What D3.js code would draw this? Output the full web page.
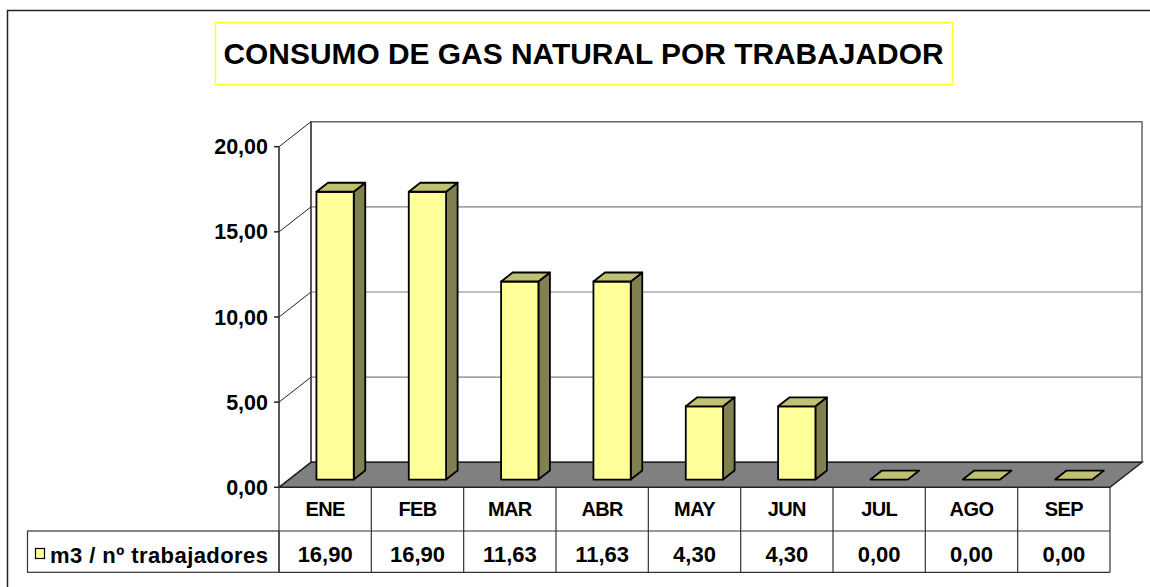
<!DOCTYPE html>
<html>
<head>
<meta charset="utf-8">
<script src="https://cdn.jsdelivr.net/npm/d3@7"></script>
<style>
  body { margin: 0; background: #fff; }
  svg { display: block; font-family: "Liberation Sans", Arial, sans-serif; font-weight: bold; }
</style>
</head>
<body>
<div id="chart-wrap"></div>
<script>
const months = ["ENE", "FEB", "MAR", "ABR", "MAY", "JUN", "JUL", "AGO", "SEP"];
const values = [16.90, 16.90, 11.63, 11.63, 4.30, 4.30, 0.00, 0.00, 0.00];
const yTicks = [0, 5, 10, 15, 20];
const seriesName = "m3 / nº trabajadores";
const titleText = "CONSUMO DE GAS NATURAL POR TRABAJADOR";

const width = 1150;
const height = 587;
const depth = {dx: 32, dy: -25};      // floor depth offset
const barDepth = [0.31, 0.67];         // bar front/back as fraction of floor depth

const locale = d3.formatLocale({decimal: ",", thousands: ".", grouping: [3], currency: ["", "€"]});
const fmt = locale.format(".2f");

const svg = d3.select("#chart-wrap")
  .append("svg")
  .attr("width", width)
  .attr("height", height);

// outer chart border
svg.append("rect")
  .attr("x", 7.5).attr("y", 10.5)
  .attr("width", 1160).attr("height", 600)
  .attr("fill", "#fff").attr("stroke", "#222").attr("stroke-width", 1.5);

// title
svg.append("rect")
  .attr("x", 215.5).attr("y", 22.5)
  .attr("width", 737).attr("height", 62)
  .attr("fill", "#fff").attr("stroke", "#ffff33").attr("stroke-width", 1.5);
svg.append("text")
  .attr("x", 583.5).attr("y", 63.5)
  .attr("text-anchor", "middle")
  .attr("font-size", 30)
  .attr("textLength", 720)
  .attr("lengthAdjust", "spacingAndGlyphs")
  .text(titleText);

const x = d3.scaleBand().domain(months).range([279, 1110]);
const y = d3.scaleLinear().domain([0, 20]).range([487.3, 146.7]);

const p = (px, py, d) => [px + d * depth.dx, py + d * depth.dy];
const poly = pts => "M" + pts.map(q => q.join(",")).join("L") + "Z";

const x0 = x.range()[0], x1 = x.range()[1];

// back wall
svg.append("path")
  .attr("d", poly([p(x0, y(0), 1), p(x1, y(0), 1), p(x1, y(20), 1), p(x0, y(20), 1)]))
  .attr("fill", "#fff").attr("stroke", "#666").attr("stroke-width", 1.5);

// gridlines on back wall + side wall diagonals
yTicks.forEach(t => {
  const a = p(x0, y(t), 0), b = p(x0, y(t), 1), c = p(x1, y(t), 1);
  if (t > 0 && t < 20) {
    svg.append("line")
      .attr("x1", b[0]).attr("y1", b[1]).attr("x2", c[0]).attr("y2", c[1])
      .attr("stroke", "#808080").attr("stroke-width", 1.2);
  }
  svg.append("line")
    .attr("x1", a[0]).attr("y1", a[1]).attr("x2", b[0]).attr("y2", b[1])
    .attr("stroke", "#222").attr("stroke-width", 1);
});

// left wall back edge
svg.append("line")
  .attr("x1", x0 + depth.dx).attr("y1", y(0) + depth.dy)
  .attr("x2", x0 + depth.dx).attr("y2", y(20) + depth.dy)
  .attr("stroke", "#222").attr("stroke-width", 1);

// floor
svg.append("path")
  .attr("d", poly([p(x0, y(0), 0), p(x1, y(0), 0), p(x1, y(0), 1), p(x0, y(0), 1)]))
  .attr("fill", "#808080").attr("stroke", "#222").attr("stroke-width", 1.5);

// front value axis
svg.append("line")
  .attr("x1", x0).attr("y1", y(0)).attr("x2", x0).attr("y2", y(20))
  .attr("stroke", "#222").attr("stroke-width", 1.5);

const yAxis = svg.append("g");
yTicks.forEach(t => {
  yAxis.append("line")
    .attr("x1", x0 - 5).attr("x2", x0).attr("y1", y(t)).attr("y2", y(t))
    .attr("stroke", "#222").attr("stroke-width", 1.5);
  yAxis.append("text")
    .attr("x", 268).attr("y", y(t) + 7.6)
    .attr("text-anchor", "end")
    .attr("font-size", 21.5)
    .text(fmt(t));
});

// bars
const bw = x.bandwidth() * 0.404;
const bars = svg.append("g");
months.forEach((m, i) => {
  const v = values[i];
  const l = x(m) + (x.bandwidth() - bw) / 2, r = l + bw;
  const f = barDepth[0], k = barDepth[1];
  const top = y(v), bot = y(0);
  const stroke = {stroke: "#000", "stroke-width": 1.8, "stroke-linejoin": "round"};
  const add = (pts, fill) => {
    const el = bars.append("path").attr("d", poly(pts)).attr("fill", fill);
    Object.entries(stroke).forEach(([a, b]) => el.attr(a, b));
  };
  if (v > 0) {
    add([p(r, bot, f), p(r, bot, k), p(r, top, k), p(r, top, f)], "#808050");
    add([p(l, bot, f), p(r, bot, f), p(r, top, f), p(l, top, f)], "#ffff99");
  }
  add([p(l, top, f), p(r, top, f), p(r, top, k), p(l, top, k)], "#c0c070");
});

// data table
const table = svg.append("g");
const rowTop = 487.3, rowMid = 531, rowBot = 572.3;
table.append("rect")
  .attr("x", 27.5).attr("y", rowMid)
  .attr("width", x0 - 27.5).attr("height", rowBot - rowMid)
  .attr("fill", "none").attr("stroke", "#333").attr("stroke-width", 1.2);
table.append("line")
  .attr("x1", x0).attr("x2", x1).attr("y1", rowMid).attr("y2", rowMid)
  .attr("stroke", "#333").attr("stroke-width", 1.2);
table.append("line")
  .attr("x1", x0).attr("x2", x1).attr("y1", rowBot).attr("y2", rowBot)
  .attr("stroke", "#333").attr("stroke-width", 1.2);
months.forEach((m, i) => {
  table.append("line")
    .attr("x1", x(m) + x.bandwidth()).attr("x2", x(m) + x.bandwidth())
    .attr("y1", rowTop).attr("y2", rowBot)
    .attr("stroke", "#333").attr("stroke-width", 1.2);
  table.append("text")
    .attr("x", x(m) + x.bandwidth() / 2).attr("y", 516)
    .attr("text-anchor", "middle").attr("font-size", 20)
    .attr("letter-spacing", -0.6)
    .text(m);
  table.append("text")
    .attr("x", x(m) + x.bandwidth() / 2).attr("y", 561.5)
    .attr("text-anchor", "middle").attr("font-size", 22)
    .text(fmt(values[i]));
});
table.append("line")
  .attr("x1", x0).attr("x2", x0).attr("y1", rowTop).attr("y2", rowBot)
  .attr("stroke", "#333").attr("stroke-width", 1.2);

// legend key
table.append("rect")
  .attr("x", 35.5).attr("y", 548.5).attr("width", 9).attr("height", 10)
  .attr("fill", "#ffff99").attr("stroke", "#000").attr("stroke-width", 1.2);
table.append("text")
  .attr("x", 50).attr("y", 563)
  .attr("font-size", 22)
  .attr("textLength", 218)
  .attr("lengthAdjust", "spacing")
  .text(seriesName);
</script>
</body>
</html>
